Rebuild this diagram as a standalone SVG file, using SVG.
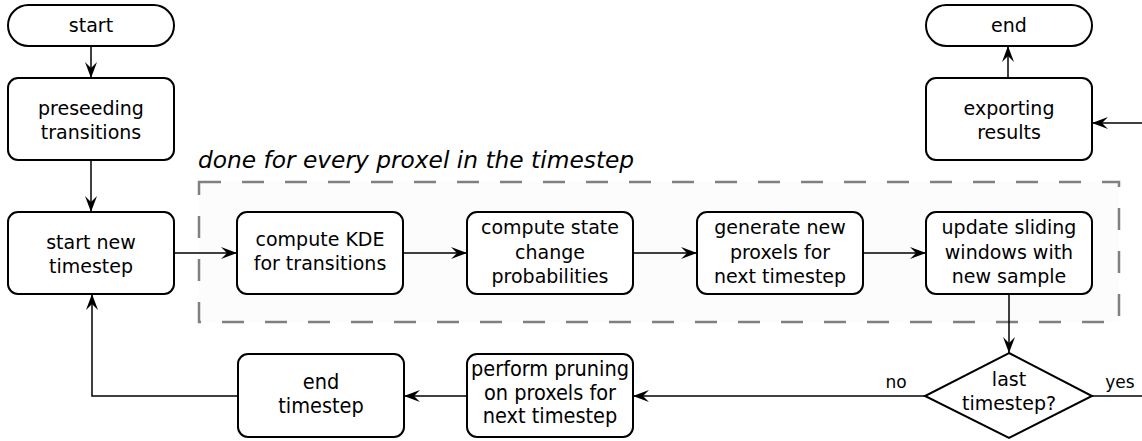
<svg xmlns="http://www.w3.org/2000/svg" width="1142" height="441" viewBox="0 0 1142 441">
<style>
.box{fill:#fff;stroke:#000;stroke-width:2}
.t{font-family:"DejaVu Sans",sans-serif;font-size:19px;fill:#000;text-anchor:middle}
.tc{font-family:"DejaVu Sans Condensed","DejaVu Sans",sans-serif;font-stretch:condensed;font-size:21.5px;fill:#000;text-anchor:middle}
.lbl{font-family:"DejaVu Sans",sans-serif;font-size:17px;fill:#000;text-anchor:middle}
.c{fill:none;stroke:#000;stroke-width:1.5}
</style>
<defs>
<marker id="ah" markerUnits="userSpaceOnUse" markerWidth="20" markerHeight="16" viewBox="-17 -8 18 16" refX="0" refY="0" orient="auto">
<path d="M0,0 L-16,-6 L-10,0 L-16,6 Z" fill="#000"/>
</marker>
</defs>
<rect width="1142" height="441" fill="#fff"/>
<g id="loop-region">
<rect x="199" y="182" width="920" height="140" fill="#fcfcfc" stroke="#808080" stroke-width="2.5" stroke-dasharray="22 21"/>
<text x="198" y="168" font-family="DejaVu Sans, sans-serif" font-style="italic" font-size="23.3" fill="#000">done for every proxel in the timestep</text>
</g>
<g id="connectors">
<path class="c" d="M91,46 V78" marker-end="url(#ah)"/>
<path class="c" d="M91,160 V212" marker-end="url(#ah)"/>
<path class="c" d="M174,253 H237" marker-end="url(#ah)"/>
<path class="c" d="M403,253 H467" marker-end="url(#ah)"/>
<path class="c" d="M633,253 H697" marker-end="url(#ah)"/>
<path class="c" d="M863,253 H926" marker-end="url(#ah)"/>
<path class="c" d="M1009,294 V353" marker-end="url(#ah)"/>
<path class="c" d="M925,396 H633" marker-end="url(#ah)"/>
<path class="c" d="M467,396 H404" marker-end="url(#ah)"/>
<path class="c" d="M238,396 H92 V294" marker-end="url(#ah)"/>
<path class="c" d="M1092,396 H1145"/>
<path class="c" d="M1145,123 H1092" marker-end="url(#ah)"/>
<path class="c" d="M1008,78 V46" marker-end="url(#ah)"/>
<text class="lbl" x="896" y="388">no</text>
<text class="lbl" x="1120" y="388">yes</text>
</g>
<g id="start">
<rect class="box" x="8" y="5" width="166" height="41" rx="20.5"/>
<text class="t" x="91" y="32">start</text>
</g>
<g id="preseeding">
<rect class="box" x="8" y="78" width="166" height="82" rx="10"/>
<text class="t" x="91" y="115">preseeding</text>
<text class="t" x="91" y="139">transitions</text>
</g>
<g id="start-new-timestep">
<rect class="box" x="8" y="212" width="166" height="82" rx="10"/>
<text class="t" x="91" y="249">start new</text>
<text class="t" x="91" y="273">timestep</text>
</g>
<g id="compute-kde">
<rect class="box" x="237" y="212" width="166" height="82" rx="10"/>
<text class="t" x="320" y="246">compute KDE</text>
<text class="t" x="320" y="270">for transitions</text>
</g>
<g id="compute-state">
<rect class="box" x="467" y="212" width="166" height="82" rx="10"/>
<text class="t" x="550" y="234">compute state</text>
<text class="t" x="550" y="258.5">change</text>
<text class="t" x="550" y="283">probabilities</text>
</g>
<g id="generate">
<rect class="box" x="697" y="212" width="166" height="82" rx="10"/>
<text class="t" x="780" y="234">generate new</text>
<text class="t" x="780" y="258.5">proxels for</text>
<text class="t" x="780" y="283">next timestep</text>
</g>
<g id="update">
<rect class="box" x="926" y="212" width="166" height="82" rx="10"/>
<text class="t" x="1009" y="234">update sliding</text>
<text class="t" x="1009" y="258.5">windows with</text>
<text class="t" x="1009" y="283">new sample</text>
</g>
<g id="last-timestep">
<path class="box" d="M1009,353 L1092,396 L1009,438 L925,396 Z"/>
<text class="t" x="1009" y="386">last</text>
<text class="t" x="1009" y="410">timestep?</text>
</g>
<g id="perform-pruning">
<rect class="box" x="467" y="354" width="166" height="83" rx="10"/>
<text class="tc" x="550" y="376">perform pruning</text>
<text class="tc" x="550" y="400">on proxels for</text>
<text class="tc" x="550" y="423">next timestep</text>
</g>
<g id="end-timestep">
<rect class="box" x="238" y="354" width="166" height="83" rx="10"/>
<text class="tc" x="321" y="389">end</text>
<text class="tc" x="321" y="413">timestep</text>
</g>
<g id="exporting">
<rect class="box" x="926" y="78" width="166" height="82" rx="10"/>
<text class="t" x="1009" y="115">exporting</text>
<text class="t" x="1009" y="139">results</text>
</g>
<g id="end">
<rect class="box" x="926" y="5" width="166" height="41" rx="20.5"/>
<text class="t" x="1009" y="32">end</text>
</g>
</svg>
